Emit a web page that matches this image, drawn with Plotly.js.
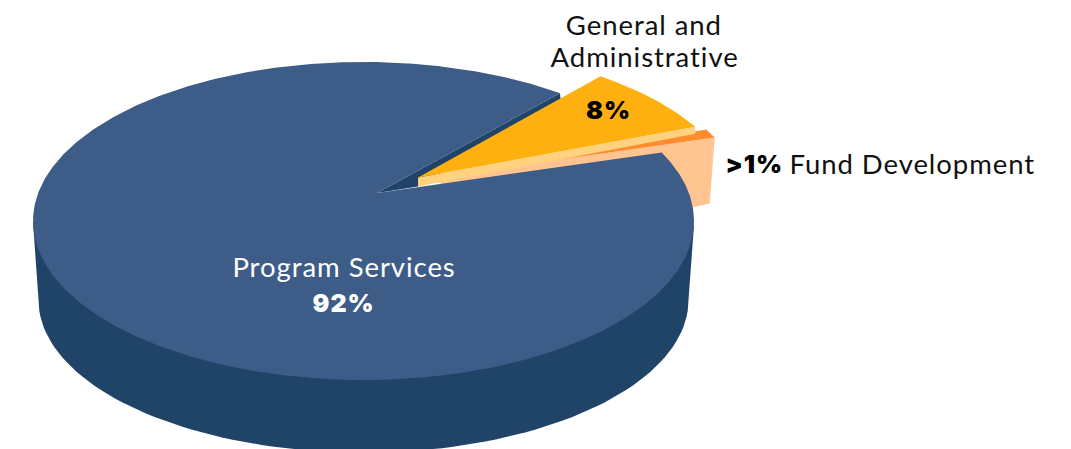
<!DOCTYPE html>
<html>
<head>
<meta charset="utf-8">
<script src="https://cdn.plot.ly/plotly-3.0.1.min.js"></script>
<style>
html,body{margin:0;padding:0;background:#fff}
#chart{width:1071px;height:449px}
#chart .annotation-text{letter-spacing:0.95px}
</style>
</head>
<body>
<div id="chart"></div>
<script>
// Expense shares, in percent
const categories = ['Program Services', 'Fund Development', 'General and', 'Administrative'];
const shares = [92, 1, 8];
const shareLabels = ['92%', '>1%', '8%'];

// Tilted disc: ellipse in pixel units on the hidden axes
const disc = {cx: 363.5, cy: 221, rx: 330.5, ry: 159};
const tilt = {x: 0.041, y: 0.176};          // where the disc centre falls inside the ellipse
const startDeg = 49;                        // rim angle where the first slice begins
const pull = [{x: 0, y: 0}, {x: 53, y: -15}, {x: 44.5, y: -15.5}];   // explode offsets
const turn = [0, 0, 1];                     // small per-slice rotation, degrees
const tipShift = [0, 0, -3.5];              // horizontal nudge of each slice's point

const colors = {
  top: ['#3D5C87', '#FF8C2E', '#FFB011'],
  wall: ['#204467', '#FFC490', '#FFD27F']
};

// Perspective map from a rim angle to its point on the ellipse
const t2 = tilt.x * tilt.x + tilt.y * tilt.y;
const gamma = 1 / Math.sqrt(1 - t2);
function rim(deg, off) {
  const a = deg * Math.PI / 180, nx = Math.cos(a), ny = Math.sin(a);
  const d = nx * tilt.x + ny * tilt.y;
  const w = gamma * (1 + d);
  const f = (gamma - 1) * d / t2 + gamma;
  return {
    x: disc.cx + off.x + disc.rx * (nx + tilt.x * f) / w,
    y: disc.cy + off.y - disc.ry * (ny + tilt.y * f) / w
  };
}
function apex(i) {
  const off = pull[i];
  return {x: disc.cx + off.x + disc.rx * tilt.x + tipShift[i], y: disc.cy + off.y - disc.ry * tilt.y};
}

// Slice spans from the shares, running counter-clockwise
const total = shares.reduce((s, v) => s + v, 0);
let cursor = startDeg;
const spans = shares.map((v, i) => {
  const sweep = v / total * 360;
  const span = {from: cursor + turn[i], to: cursor + sweep + turn[i]};
  cursor += sweep;
  return span;
});

function arc(span, off) {
  const pts = [], n = Math.max(6, Math.ceil(Math.abs(span.to - span.from) * 2));
  for (let i = 0; i <= n; i++) pts.push(rim(span.from + (span.to - span.from) * i / n, off));
  return pts;
}
function poly(pts, color) {
  return {
    type: 'scatter', mode: 'lines', fill: 'toself', fillcolor: color,
    x: pts.map(p => p.x).concat(pts[0].x), y: pts.map(p => p.y).concat(pts[0].y),
    line: {width: 0, color: color}, hoverinfo: 'skip', showlegend: false
  };
}
function wedge(i) {
  return [apex(i)].concat(arc(spans[i], pull[i]));
}

// Outer wall of the large slice, closing down to a lower, slightly narrower ellipse
const base = {cx: 363.5, cy: 300, rx: 325, ry: 152.7};
const outer = [{x: disc.cx - disc.rx, y: 222}];
for (let d = 180; d <= 360; d += 2) {
  const a = d * Math.PI / 180;
  outer.push({x: base.cx + base.rx * Math.cos(a), y: base.cy - base.ry * Math.sin(a)});
}
outer.push({x: disc.cx + disc.rx, y: 225});

// Front wall of the middle slice
const adminA = apex(2);
const adminR = rim(spans[2].from, pull[2]);
const adminFoot = {x: adminA.x, y: adminA.y + 9};
const adminFace = [adminA, adminR, {x: adminR.x, y: adminR.y + 7}, adminFoot];

// Cut face of the large slice, seen through the gap
const cutTop = rim(spans[0].from, pull[0]);
const innerFace = [apex(0), cutTop, {x: cutTop.x + 1, y: cutTop.y + 10}, adminFoot];

// Wall of the small slice, mostly tucked behind the large one
const fundA = apex(1);
const fundR = rim(spans[1].from, pull[1]);
const fundFace = [fundA, fundR, {x: fundR.x - 5, y: fundR.y + 66}, {x: fundA.x + 120, y: fundA.y + 62}];

const traces = [
  poly(outer, colors.wall[0]),
  poly(innerFace, colors.wall[0]),
  poly(fundFace, colors.wall[1]),
  poly(wedge(1), colors.top[1]),
  poly(wedge(0), colors.top[0]),
  poly(adminFace, colors.wall[2]),
  poly(wedge(2), colors.top[2])
];

const face = 'Lato, "Open Sans", sans-serif';
const heavy = 'Inter, Lato, sans-serif';
function note(text, x, y, color, anchor) {
  return {
    text: text, x: x, y: y, xref: 'x', yref: 'y', showarrow: false,
    xanchor: anchor || 'center', yanchor: 'middle',
    font: {family: face, size: 27.5, color: color, weight: 400}
  };
}
function figure(text, x, y, color, anchor) {
  return {
    text: text, x: x, y: y, xref: 'x', yref: 'y', showarrow: false,
    xanchor: anchor || 'center', yanchor: 'middle',
    font: {family: heavy, size: 25, color: color, weight: 900}
  };
}

const layout = {
  width: 1071, height: 449,
  margin: {l: 0, r: 0, t: 0, b: 0},
  paper_bgcolor: '#fff', plot_bgcolor: '#fff',
  showlegend: false, hovermode: false,
  xaxis: {range: [0, 1071], visible: false, fixedrange: true},
  yaxis: {range: [449, 0], visible: false, fixedrange: true},
  annotations: [
    note(categories[0], 343.5, 266, '#fff'),
    figure(shareLabels[0], 343.5, 303, '#fff'),
    note(categories[2], 644, 24, '#111'),
    note(categories[3], 644, 56, '#111'),
    figure(shareLabels[2], 608, 110, '#000'),
    figure(shareLabels[1], 725, 164, '#000', 'left'),
    note(categories[1], 795, 163, '#111', 'left')
  ]
};

Plotly.newPlot('chart', traces, layout, {displayModeBar: false, staticPlot: true});
</script>
</body>
</html>
